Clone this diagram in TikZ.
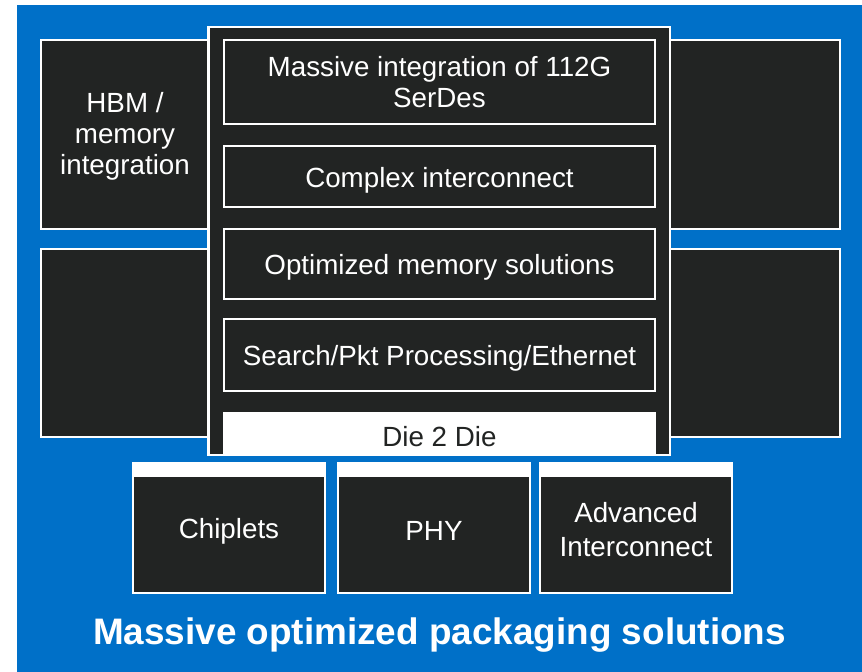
\documentclass[tikz,border=0pt]{standalone}
\usepackage{fontspec}
\setmainfont{Liberation Sans}
\usepackage{tikz}
\usetikzlibrary{positioning}
\definecolor{slideblue}{HTML}{0070C8}
\definecolor{chipdark}{HTML}{222423}

\begin{document}
\begin{tikzpicture}[x=0.02cm,y=-0.02cm,
  box/.style={draw=white, fill=chipdark, line width=1.4pt},
  lbl/.style={text=white, align=center, font=\fontsize{15.8}{17.6}\selectfont}]
  % page and blue slide
  \useasboundingbox (0,0) rectangle (862,672);
  \fill[slideblue] (17,5) rectangle (862,672);
  % side blocks
  \draw[box] (41.2,40.2) rectangle (230,228.8);
  \draw[box] (41.2,249.2) rectangle (230,437);
  \draw[box] (660,40.2) rectangle (839.8,228.8);
  \draw[box] (660,249.2) rectangle (839.8,437);
  % central die
  \draw[box] (208.7,27.2) rectangle (669.8,454.8);
  \foreach \ya/\yb in {39/125, 145/208, 228/300, 318/392} {
    \draw[box] (224.2,\ya+1.2) rectangle (654.8,\yb-1.2);
  }
  \fill[white] (223,412) rectangle (656,456);
  % bottom blocks
  \foreach \xa/\xb in {132/326, 337/531, 539/733} {
    \draw[box] (\xa+1.2,463.2) rectangle (\xb-1.2,592.8);
    \fill[white] (\xa,462) rectangle (\xb,477);
  }
  % labels
  \node[lbl] (hbm) at (125,136.5) {HBM /\\memory\\integration};
  \node[lbl] (serdes) at (439.5,82) {Massive integration of 112G\\SerDes};
  \node[lbl] (xconn) at (439.5,180) {Complex interconnect};
  \node[lbl] (optmem) at (439.5,267.5) {Optimized memory solutions};
  \node[lbl] (search) at (439.5,358) {Search/Pkt Processing/Ethernet};
  \node[lbl, text=chipdark] (d2d) at (439.5,436.5) {Die 2 Die};
  \node[lbl] (chiplets) at (229,531) {Chiplets};
  \node[lbl] (phy) at (434,531) {PHY};
  \node[lbl, font=\fontsize{15.8}{19}\selectfont] (advic) at (636,529.5) {Advanced\\Interconnect};
  \node[text=white, font=\bfseries\fontsize{21}{24}\selectfont] (title) at (439.5,635.5) {Massive optimized packaging solutions};
\end{tikzpicture}
\end{document}
